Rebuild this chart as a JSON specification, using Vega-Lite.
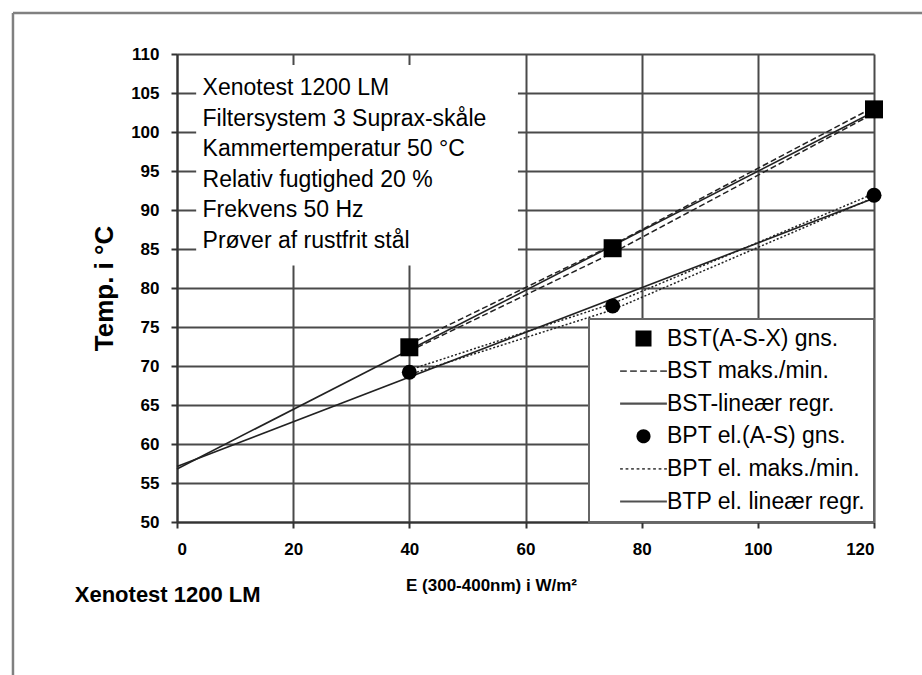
{
  "$schema": "https://vega.github.io/schema/vega-lite/v6.json",
  "width": 697,
  "height": 468,
  "padding": {"left": 11, "top": 11, "right": 0, "bottom": 0},
  "background": "white",
  "datasets": {
    "main": [
      {"series": "BST(A-S-X) gns.", "grp": "avg", "E": 40, "T": 72.4},
      {"series": "BST(A-S-X) gns.", "grp": "avg", "E": 75, "T": 85.1},
      {"series": "BST(A-S-X) gns.", "grp": "avg", "E": 120, "T": 102.9},
      {"series": "BST maks./min.", "grp": "max", "E": 40, "T": 72.8},
      {"series": "BST maks./min.", "grp": "max", "E": 75, "T": 85.5},
      {"series": "BST maks./min.", "grp": "max", "E": 120, "T": 103.2},
      {"series": "BST maks./min.", "grp": "min", "E": 40, "T": 71.9},
      {"series": "BST maks./min.", "grp": "min", "E": 75, "T": 84.5},
      {"series": "BST maks./min.", "grp": "min", "E": 120, "T": 102.4},
      {"series": "BST-lineær regr.", "grp": "reg", "E": 0, "T": 56.8},
      {"series": "BST-lineær regr.", "grp": "reg", "E": 120, "T": 102.6},
      {"series": "BPT el.(A-S) gns.", "grp": "avg", "E": 40, "T": 69.2},
      {"series": "BPT el.(A-S) gns.", "grp": "avg", "E": 75, "T": 77.7},
      {"series": "BPT el.(A-S) gns.", "grp": "avg", "E": 120, "T": 91.9},
      {"series": "BPT el. maks./min.", "grp": "max", "E": 40, "T": 69.5},
      {"series": "BPT el. maks./min.", "grp": "max", "E": 75, "T": 78.0},
      {"series": "BPT el. maks./min.", "grp": "max", "E": 120, "T": 92.1},
      {"series": "BPT el. maks./min.", "grp": "min", "E": 40, "T": 68.9},
      {"series": "BPT el. maks./min.", "grp": "min", "E": 75, "T": 77.2},
      {"series": "BPT el. maks./min.", "grp": "min", "E": 120, "T": 91.6},
      {"series": "BTP el. lineær regr.", "grp": "reg", "E": 0, "T": 57.1},
      {"series": "BTP el. lineær regr.", "grp": "reg", "E": 120, "T": 91.5}
    ]
  },
  "data": {"name": "main"},
  "layer": [
    {
      "transform": [{"filter": "datum.series == 'BST maks./min.'"}],
      "mark": {"type": "line", "color": "#222", "strokeWidth": 1.5, "strokeDash": [6, 3]},
      "encoding": {
        "x": {
          "field": "E", "type": "quantitative",
          "scale": {"domain": [0, 120], "nice": false, "zero": false},
          "axis": {
            "values": [0, 20, 40, 60, 80, 100, 120], "tickCount": 12,
            "title": "E (300-400nm) i W/m²",
            "labelPadding": 13,
            "titleFontSize": 17,
            "titleX": 314, "titleY": 63, "titleBaseline": "middle"
          }
        },
        "y": {
          "field": "T", "type": "quantitative",
          "scale": {"domain": [50, 110], "nice": false, "zero": false},
          "axis": {
            "values": [50, 55, 60, 65, 70, 75, 80, 85, 90, 95, 100, 105, 110], "tickCount": 13,
            "title": "Temp. i °C",
            "labelPadding": 12,
            "titleFontSize": 26,
            "titleX": -73, "titleBaseline": "middle"
          }
        },
        "detail": {"field": "grp"}
      }
    },
    {
      "data": {"values": [{}]},
      "mark": {"type": "rect", "fill": "white", "stroke": null},
      "encoding": {
        "x": {"datum": 3.3, "type": "quantitative"},
        "x2": {"datum": 58.7},
        "y": {"datum": 108.6, "type": "quantitative"},
        "y2": {"datum": 82.9}
      }
    },
    {
      "transform": [{"filter": "datum.series == 'BPT el. maks./min.'"}],
      "mark": {"type": "line", "color": "#222", "strokeWidth": 1.5, "strokeDash": [2, 2]},
      "encoding": {
        "x": {"field": "E", "type": "quantitative"},
        "y": {"field": "T", "type": "quantitative"},
        "detail": {"field": "grp"}
      }
    },
    {
      "transform": [{"filter": "datum.grp == 'reg'"}],
      "mark": {"type": "line", "color": "#222", "strokeWidth": 1.6},
      "encoding": {
        "x": {"field": "E", "type": "quantitative"},
        "y": {"field": "T", "type": "quantitative"},
        "detail": {"field": "series"}
      }
    },
    {
      "transform": [{"filter": "datum.series == 'BST(A-S-X) gns.'"}],
      "mark": {"type": "point", "shape": "square", "filled": true, "color": "black", "size": 324, "opacity": 1},
      "encoding": {
        "x": {"field": "E", "type": "quantitative"},
        "y": {"field": "T", "type": "quantitative"}
      }
    },
    {
      "transform": [{"filter": "datum.series == 'BPT el.(A-S) gns.'"}],
      "mark": {"type": "point", "shape": "circle", "filled": true, "color": "black", "size": 225, "opacity": 1},
      "encoding": {
        "x": {"field": "E", "type": "quantitative"},
        "y": {"field": "T", "type": "quantitative"}
      }
    },
    {
      "data": {"values": [{}]},
      "mark": {
        "type": "text", "align": "left", "baseline": "alphabetic",
        "font": "Liberation Sans", "fontSize": 23, "color": "black", "lineHeight": 30.5,
        "text": ["Xenotest 1200 LM", "Filtersystem 3 Suprax-skåle", "Kammertemperatur 50 °C", "Relativ fugtighed 20 %", "Frekvens 50 Hz", "Prøver af rustfrit stål"]
      },
      "encoding": {
        "x": {"datum": 4.4, "type": "quantitative"},
        "y": {"datum": 104.74, "type": "quantitative"}
      }
    },
    {
      "data": {"values": [{}]},
      "mark": {
        "type": "text", "align": "left", "baseline": "middle",
        "font": "Liberation Sans", "fontSize": 22, "fontWeight": "bold", "color": "black",
        "text": "Xenotest 1200 LM"
      },
      "encoding": {
        "x": {"datum": -17.6, "type": "quantitative"},
        "y": {"datum": 40.6, "type": "quantitative"}
      }
    },
    {
      "data": {"values": [{}]},
      "mark": {"type": "rule", "color": "#808080", "strokeWidth": 2.5},
      "encoding": {
        "x": {"datum": -28.24, "type": "quantitative"},
        "y": {"datum": 115.26, "type": "quantitative"},
        "y2": {"datum": 29.5}
      }
    },
    {
      "data": {"values": [{}]},
      "mark": {"type": "rule", "color": "#808080", "strokeWidth": 2.5},
      "encoding": {
        "x": {"datum": -28.24, "type": "quantitative"},
        "x2": {"datum": 129.5},
        "y": {"datum": 115.26, "type": "quantitative"}
      }
    },
    {
      "mark": {"type": "point", "filled": true, "opacity": 0, "size": 324},
      "encoding": {
        "x": {"field": "E", "type": "quantitative"},
        "y": {"field": "T", "type": "quantitative"},
        "shape": {
          "field": "series", "type": "nominal",
          "scale": {
            "domain": ["BST(A-S-X) gns.", "BST maks./min.", "BST-lineær regr.", "BPT el.(A-S) gns.", "BPT el. maks./min.", "BTP el. lineær regr."],
            "range": [
              "M-0.89,-0.89H0.89V0.89H-0.89Z",
              "M-2.6,-0.1H-1.857V0.1H-2.6Z M-1.486,-0.1H-0.743V0.1H-1.486Z M-0.371,-0.1H0.371V0.1H-0.371Z M0.743,-0.1H1.486V0.1H0.743Z M1.857,-0.1H2.6V0.1H1.857Z",
              "M-2.6,-0.12H2.6V0.12H-2.6Z",
              "M-0.78,0A0.78,0.78,0,1,0,0.78,0A0.78,0.78,0,1,0,-0.78,0Z",
              "M-2.6,-0.09H-2.294V0.09H-2.6Z M-1.988,-0.09H-1.682V0.09H-1.988Z M-1.376,-0.09H-1.07V0.09H-1.376Z M-0.764,-0.09H-0.458V0.09H-0.764Z M-0.152,-0.09H0.154V0.09H-0.152Z M0.46,-0.09H0.766V0.09H0.46Z M1.072,-0.09H1.378V0.09H1.072Z M1.684,-0.09H1.99V0.09H1.684Z M2.296,-0.09H2.6V0.09H2.296Z",
              "M-2.6,-0.12H2.6V0.12H-2.6Z"
            ]
          },
          "legend": {"title": null}
        },
        "color": {
          "field": "series", "type": "nominal",
          "scale": {
            "domain": ["BST(A-S-X) gns.", "BST maks./min.", "BST-lineær regr.", "BPT el.(A-S) gns.", "BPT el. maks./min.", "BTP el. lineær regr."],
            "range": ["#000000", "#505050", "#505050", "#000000", "#505050", "#505050"]
          },
          "legend": {"title": null}
        }
      }
    }
  ],
  "config": {
    "font": "Liberation Sans",
    "view": {"stroke": null},
    "axis": {
      "grid": true, "gridColor": "#4a4a4a", "gridWidth": 2,
      "domainColor": "#333", "domainWidth": 2,
      "tickColor": "#333", "tickWidth": 2, "tickSize": 6,
      "labelFont": "Liberation Sans", "labelFontSize": 17, "labelFontWeight": "bold", "labelColor": "black",
      "labelOverlap": false,
      "titleFont": "Liberation Sans", "titleFontWeight": "bold", "titleColor": "black"
    },
    "legend": {
      "orient": "bottom-right", "offset": 0, "padding": 8,
      "fillColor": "white", "strokeColor": "#666", "strokeWidth": 2,
      "labelFont": "Liberation Sans", "labelFontSize": 23, "labelColor": "black", "labelLimit": 400,
      "symbolSize": 324, "symbolOffset": 35, "labelOffset": 12, "rowPadding": 8.6,
      "symbolOpacity": 1, "symbolStrokeWidth": 0
    }
  }
}
